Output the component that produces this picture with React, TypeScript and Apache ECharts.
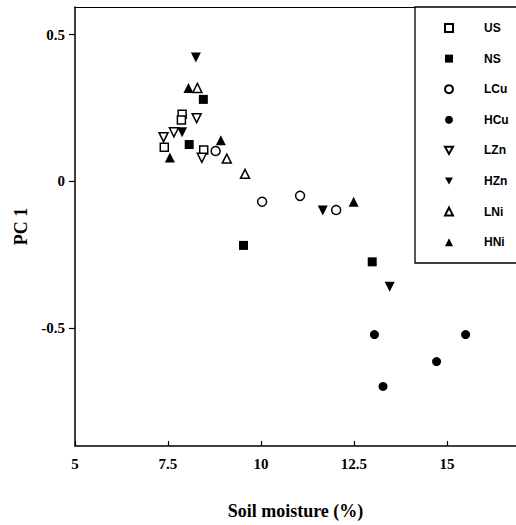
import React, { useEffect, useRef } from "react";
import * as echarts from "echarts";

const xTicks = [5, 7.5, 10, 12.5, 15];
const yTicks = [-0.5, 0, 0.5];

const US = [[7.88, 0.228], [7.86, 0.209], [7.40, 0.116], [8.46, 0.106]];
const NS = [[8.45, 0.279], [8.07, 0.125], [9.53, -0.219], [12.99, -0.275]];
const LCu = [[8.78, 0.103], [10.03, -0.07], [11.05, -0.05], [12.02, -0.098]];
const HCu = [[13.05, -0.523], [15.5, -0.523], [14.72, -0.615], [13.28, -0.7]];
const LZn = [[8.27, 0.215], [7.38, 0.15], [7.66, 0.167], [8.41, 0.08]];
const HZn = [[8.25, 0.422], [7.88, 0.167], [11.66, -0.1], [13.46, -0.36]];
const LNi = [[8.29, 0.318], [9.08, 0.077], [9.57, 0.025]];
const HNi = [[8.05, 0.318], [8.92, 0.14], [7.55, 0.081], [12.49, -0.07]];

const DOWN = "path://M0,0L2,0L1,1.8Z";

const groups = [
  { name: "US", data: US, symbol: "rect", open: true, size: 8 },
  { name: "NS", data: NS, symbol: "rect", open: false, size: 9 },
  { name: "LCu", data: LCu, symbol: "circle", open: true, size: 9 },
  { name: "HCu", data: HCu, symbol: "circle", open: false, size: 9 },
  { name: "LZn", data: LZn, symbol: DOWN, open: true, size: 9 },
  { name: "HZn", data: HZn, symbol: DOWN, open: false, size: 10 },
  { name: "LNi", data: LNi, symbol: "triangle", open: true, size: 9 },
  { name: "HNi", data: HNi, symbol: "triangle", open: false, size: 10 },
];

export default function App() {
  const ref = useRef<HTMLDivElement>(null);
  useEffect(() => {
    const chart = echarts.init(ref.current!, null, { renderer: "svg" });
    const serif = "Liberation Serif";
    chart.setOption({
      animation: false,
      backgroundColor: "#fff",
      grid: { left: 75, top: 7, right: 0, height: 446 },
      xAxis: [
        {
          type: "value",
          min: 5,
          max: 16.855,
          position: "bottom",
          name: "Soil moisture (%)",
          nameLocation: "middle",
          nameGap: 56,
          nameTextStyle: { fontFamily: serif, fontWeight: "bold", fontSize: 18, color: "#000" },
          axisLine: { show: true, onZero: false, lineStyle: { color: "#000", width: 1.5 } },
          axisTick: { show: true, inside: true, length: 5, customValues: xTicks, lineStyle: { color: "#000", width: 1.2 } },
          axisLabel: { customValues: xTicks, margin: 10, fontFamily: serif, fontWeight: "bold", fontSize: 15, color: "#000" },
          splitLine: { show: false },
        },
        {
          type: "value",
          min: 5,
          max: 16.855,
          position: "top",
          axisLine: { show: true, onZero: false, lineStyle: { color: "#000", width: 1.2 } },
          axisTick: { show: false },
          axisLabel: { show: false },
          splitLine: { show: false },
        },
      ],
      yAxis: {
        type: "value",
        min: -0.903,
        max: 0.594,
        name: "PC 1",
        nameLocation: "middle",
        nameGap: 44,
        nameTextStyle: { fontFamily: serif, fontWeight: "bold", fontSize: 18, color: "#000" },
        axisLine: { show: true, onZero: false, lineStyle: { color: "#000", width: 1.5 } },
        axisTick: { show: true, inside: false, length: 6, customValues: yTicks, lineStyle: { color: "#000", width: 1.2 } },
        axisLabel: { customValues: yTicks, margin: 10, fontFamily: serif, fontWeight: "bold", fontSize: 15, color: "#000" },
        splitLine: { show: false },
      },
      graphic: [
        {
          type: "rect",
          z: 3,
          shape: { x: 415, y: 7, width: 130, height: 256 },
          style: { fill: "#fff", stroke: "#000", lineWidth: 1.3 },
        },
      ],
      legend: {
        orient: "vertical",
        left: 439,
        top: 17,
        z: 10,
        itemWidth: 8,
        itemHeight: 8,
        itemGap: 18.6,
        data: groups.map((g) => g.name),
        textStyle: {
          fontFamily: "Liberation Sans",
          fontWeight: "bold",
          fontSize: 12,
          color: "#000",
          padding: [0, 0, 0, 26],
        },
      },
      series: groups.map((g) => ({
        type: "scatter",
        name: g.name,
        data: g.data,
        symbol: g.symbol,
        symbolSize: g.size,
        itemStyle: g.open
          ? { color: "#fff", borderColor: "#000", borderWidth: 1.5, opacity: 1 }
          : { color: "#000", borderColor: "#000", borderWidth: 0, opacity: 1 },
        emphasis: { disabled: true },
      })),
    });
    return () => chart.dispose();
  }, []);
  return (
    <div
      ref={ref}
      style={{ position: "absolute", left: 0, top: 0, width: 516, height: 525 }}
    />
  );
}
